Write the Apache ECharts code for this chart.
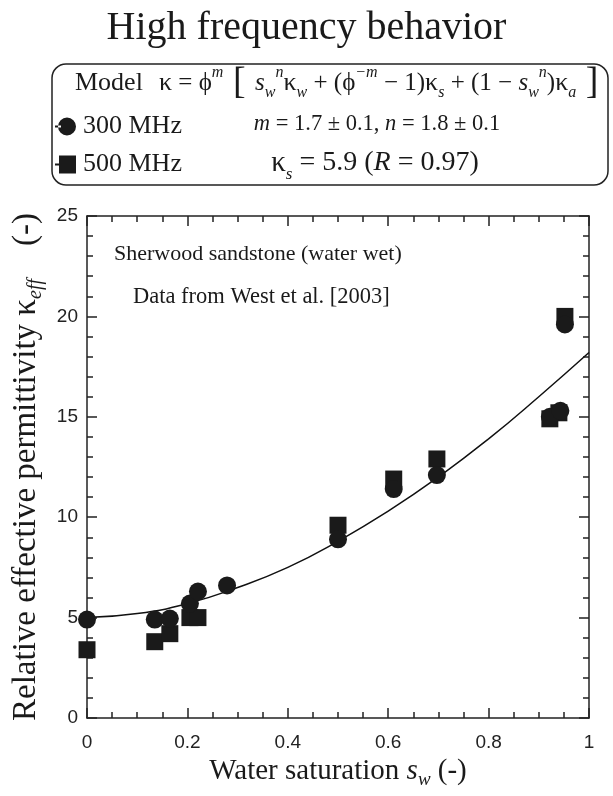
<!DOCTYPE html>
<html>
<head>
<meta charset="utf-8">
<script src="https://cdn.jsdelivr.net/npm/echarts@6/dist/echarts.min.js"></script>
<style>
  html, body { margin: 0; padding: 0; background: #fff; }
  #chart { width: 613px; height: 796px; }
</style>
</head>
<body>
<div id="chart"></div>
<script>
// ---- data ----
const sw300 = [0, 0.135, 0.165, 0.205, 0.221, 0.279, 0.5, 0.611, 0.697, 0.922, 0.943, 0.952];
const k300  = [4.9, 4.9, 4.95, 5.7, 6.3, 6.6, 8.9, 11.4, 12.1, 15.0, 15.3, 19.6];
const sw500 = [0, 0.135, 0.165, 0.205, 0.221, 0.5, 0.611, 0.697, 0.922, 0.94, 0.952];
const k500  = [3.4, 3.8, 4.2, 5.0, 5.0, 9.6, 11.9, 12.9, 14.9, 15.2, 20.0];
const modelSw = [0, 0.1, 0.2, 0.3, 0.4, 0.5, 0.6, 0.7, 0.8, 0.9, 1.0];
const modelK  = [5.0, 5.2, 5.7, 6.5, 7.5, 8.8, 10.3, 12.0, 13.9, 16.0, 18.2];
const seriesNames = ['300 MHz', '500 MHz'];
const xTickLabels = ['0', '0.2', '0.4', '0.6', '0.8', '1'];
const yTickLabels = ['0', '5', '10', '15', '20', '25'];

const SERIF = '"Liberation Serif", "Times New Roman", serif';
const SANS = '"Liberation Sans", Arial, sans-serif';
const INK = '#1a1a1a';

const pairs = (xs, ys) => xs.map((x, i) => [x, ys[i]]);

const chart = echarts.init(document.getElementById('chart'), null, { renderer: 'canvas' });

const axisCommon = {
  axisLine: { show: true, onZero: false, lineStyle: { color: '#222', width: 1.5 } },
  axisTick: { show: true, inside: true, length: 10, lineStyle: { color: '#222', width: 1.5 } },
  minorTick: { show: true, length: 6, lineStyle: { color: '#222', width: 1.5 } },
  splitLine: { show: false },
  minorSplitLine: { show: false }
};

function makeRich(size) {
  const small = Math.round(size * 0.62);
  const lh = Math.round(size * 1.45);
  return {
    b: { fontSize: size, fontFamily: SERIF, fill: INK, lineHeight: lh },
    k: { fontSize: size + 1, fontFamily: SERIF, fill: INK, lineHeight: lh },
    i: { fontSize: size, fontFamily: SERIF, fontStyle: 'italic', fill: INK, lineHeight: lh },
    sub: { fontSize: small, fontFamily: SERIF, fontStyle: 'italic', fill: INK, verticalAlign: 'bottom', lineHeight: small },
    sup: { fontSize: small, fontFamily: SERIF, fontStyle: 'italic', fill: INK, verticalAlign: 'top', lineHeight: small },
    br: { fontSize: Math.round(size * 1.5), fontFamily: SERIF, fill: INK, lineHeight: lh }
  };
}

const option = {
  backgroundColor: '#fff',
  animation: false,
  title: {
    text: 'High frequency behavior',
    left: 'center',
    top: 3,
    textStyle: { fontFamily: SERIF, fontSize: 40, fontWeight: 'normal', color: INK }
  },
  legend: {
    orient: 'vertical',
    left: 50,
    top: 108,
    itemWidth: 21,
    itemHeight: 18,
    itemGap: 11,
    selectedMode: false,
    textStyle: { fontFamily: SERIF, fontSize: 26, color: INK, lineHeight: 27, padding: [0, 0, 0, 2] },
    data: [
      { name: seriesNames[0], icon: 'path://M0,8h6v2h-6z M3,9a9,9 0 1,0 18,0a9,9 0 1,0 -18,0z' },
      { name: seriesNames[1], icon: 'path://M0,8h6v2h-6z M4,0h17v18h-17z' }
    ]
  },
  grid: { left: 87, right: 24, top: 216, bottom: 78, containLabel: false },
  xAxis: [
    Object.assign({}, axisCommon, {
      type: 'value', min: 0, max: 1, interval: 0.2, position: 'bottom',
      minorTick: Object.assign({}, axisCommon.minorTick, { splitNumber: 4 }),
      axisLabel: {
        fontFamily: SANS, fontSize: 19, color: '#222', margin: 15,
        formatter: (v) => xTickLabels[Math.round(v / 0.2)]
      },
      name: '{t|Water saturation }{i|s}{sub|w}{t| (-)}',
      nameLocation: 'middle',
      nameGap: 35,
      nameTextStyle: {
        rich: {
          t: { fontFamily: SERIF, fontSize: 29, color: INK, lineHeight: 36 },
          i: { fontFamily: SERIF, fontSize: 29, fontStyle: 'italic', color: INK, lineHeight: 36 },
          sub: { fontFamily: SERIF, fontSize: 19, fontStyle: 'italic', color: INK, verticalAlign: 'bottom', lineHeight: 19 }
        }
      }
    }),
    Object.assign({}, axisCommon, {
      type: 'value', min: 0, max: 1, interval: 0.2, position: 'top',
      minorTick: Object.assign({}, axisCommon.minorTick, { splitNumber: 4 }),
      axisLabel: { show: false }
    })
  ],
  yAxis: [
    Object.assign({}, axisCommon, {
      type: 'value', min: 0, max: 25, interval: 5, position: 'left',
      minorTick: Object.assign({}, axisCommon.minorTick, { splitNumber: 5 }),
      axisLabel: {
        fontFamily: SANS, fontSize: 19, color: '#222', margin: 9,
        formatter: (v) => yTickLabels[Math.round(v / 5)]
      },
      name: '{t|Relative effective permittivity κ}{sub|eff}{t|    (-)}',
      nameLocation: 'middle',
      nameGap: 33,
      nameRotate: 90,
      nameTextStyle: {
        rich: {
          t: { fontFamily: SERIF, fontSize: 33, color: INK, lineHeight: 40 },
          sub: { fontFamily: SERIF, fontSize: 20, fontStyle: 'italic', color: INK, verticalAlign: 'bottom', lineHeight: 20 }
        }
      }
    }),
    Object.assign({}, axisCommon, {
      type: 'value', min: 0, max: 25, interval: 5, position: 'right',
      minorTick: Object.assign({}, axisCommon.minorTick, { splitNumber: 5 }),
      axisLabel: { show: false }
    })
  ],
  graphic: [
    { type: 'rect', silent: true, shape: { x: 52, y: 64, width: 556, height: 121, r: 14 },
      style: { fill: 'none', stroke: '#222', lineWidth: 1.5 } },
    { type: 'text', silent: true, x: 75, y: 83,
      style: { text: 'Model', font: '26px ' + SERIF, fill: INK, verticalAlign: 'middle', align: 'left' } },
    { type: 'text', silent: true, x: 159, y: 83,
      style: {
        text: '{k|κ}{b| = ϕ}{sup|m}{br| [ }{i|s}{sub|w}{sup|n}{k|κ}{sub|w}{b| + (ϕ}{sup|−m}{b| − 1)}{k|κ}{sub|s}{b| + (1 − }{i|s}{sub|w}{sup|n}{b|)}{k|κ}{sub|a}{br| ]}',
        verticalAlign: 'middle', align: 'left', rich: makeRich(25)
      } },
    { type: 'text', silent: true, x: 377, y: 124,
      style: {
        text: '{i|m}{b| = 1.7 ± 0.1, }{i|n}{b| = 1.8 ± 0.1}',
        verticalAlign: 'middle', align: 'center', rich: makeRich(22.5)
      } },
    { type: 'text', silent: true, x: 375, y: 163,
      style: {
        text: '{k|κ}{sub|s}{b| = 5.9 (}{i|R}{b| = 0.97)}',
        verticalAlign: 'middle', align: 'center', rich: makeRich(28)
      } },
    { type: 'text', silent: true, x: 114, y: 254,
      style: { text: 'Sherwood sandstone (water wet)', font: '22px ' + SERIF, fill: INK, verticalAlign: 'middle', align: 'left' } },
    { type: 'text', silent: true, x: 133, y: 297,
      style: { text: 'Data from West et al. [2003]', font: '22.5px ' + SERIF, fill: INK, verticalAlign: 'middle', align: 'left' } }
  ],
  series: [
    {
      name: 'Model', type: 'line', xAxisIndex: 0, yAxisIndex: 0,
      data: pairs(modelSw, modelK), smooth: true, showSymbol: false, symbol: 'none',
      lineStyle: { color: '#111', width: 1.5 }, z: 1, silent: true
    },
    {
      name: seriesNames[1], type: 'scatter', xAxisIndex: 0, yAxisIndex: 0,
      data: pairs(sw500, k500), symbol: 'rect', symbolSize: 17,
      itemStyle: { color: INK, opacity: 1 }, z: 2
    },
    {
      name: seriesNames[0], type: 'scatter', xAxisIndex: 0, yAxisIndex: 0,
      data: pairs(sw300, k300), symbol: 'circle', symbolSize: 18,
      itemStyle: { color: INK, opacity: 1 }, z: 3
    }
  ]
};

chart.setOption(option);
</script>
</body>
</html>
